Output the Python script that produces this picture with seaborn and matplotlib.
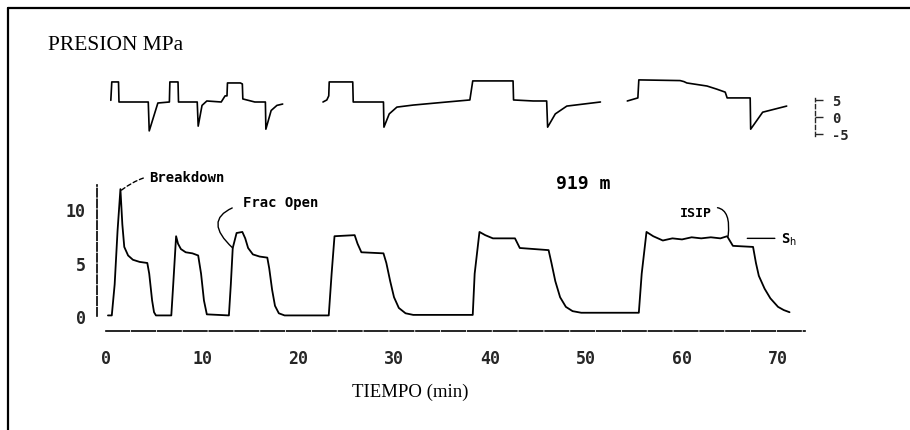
import numpy as np
import pandas as pd
import matplotlib
matplotlib.use("Agg")
import matplotlib.pyplot as plt
import seaborn as sns
from matplotlib.lines import Line2D

# ---------------- data ----------------
# Lower trace: pressure (MPa) vs time (min)
press_time = [0.2, 0.6, 0.9, 1.2, 1.5, 1.7, 1.9, 2.3, 2.8, 3.5, 4.3, 4.5, 4.8, 5.0, 5.2,
              6.8, 7.0, 7.3, 7.5, 7.8, 8.3, 9.0, 9.6, 9.9, 10.2, 10.5,
              12.8, 13.0, 13.2, 13.6, 14.2, 14.5, 14.8, 15.3, 16.0, 16.8, 17.0, 17.3, 17.6, 18.0, 18.6,
              23.2, 23.5, 23.8, 25.9, 26.2, 26.6, 28.9, 29.2, 29.6, 30.0, 30.5, 31.2, 32.0,
              38.2, 38.4, 38.9, 39.5, 40.3, 42.6, 43.1, 46.1, 46.4, 46.8, 47.3, 47.9, 48.6, 49.5,
              55.5, 55.8, 56.3, 57.0, 58.0, 59.0, 60.0, 61.0, 62.0, 63.0, 64.0, 64.7, 65.3, 67.4,
              67.7, 68.0, 68.6, 69.2, 70.0, 70.6, 71.2]
press_mpa = [0.1, 0.1, 3.0, 8.0, 11.9, 8.6, 6.5, 5.7, 5.3, 5.1, 5.0, 4.0, 1.5, 0.4, 0.1,
             0.1, 3.0, 7.5, 6.8, 6.3, 6.0, 5.9, 5.7, 4.0, 1.5, 0.2,
             0.1, 3.0, 6.4, 7.8, 7.9, 7.3, 6.4, 5.8, 5.6, 5.5, 4.5, 2.5, 1.0, 0.3, 0.1,
             0.1, 4.0, 7.5, 7.6, 6.8, 6.0, 5.9, 5.0, 3.3, 1.8, 0.8, 0.3, 0.15,
             0.15, 4.0, 7.9, 7.6, 7.3, 7.3, 6.4, 6.2, 5.0, 3.3, 1.8, 0.9, 0.5, 0.35,
             0.35, 4.0, 7.9, 7.5, 7.1, 7.3, 7.2, 7.4, 7.3, 7.4, 7.3, 7.5, 6.6, 6.5,
             5.0, 3.8, 2.6, 1.7, 0.9, 0.6, 0.4]

# Upper trace (three recorded segments), relative scale
upper_time = [0.5, 0.6, 1.3, 1.35, 4.4, 4.5, 5.4, 6.6, 6.65, 7.5, 7.55, 9.5, 9.6, 10.0, 10.5,
              12.0, 12.4, 12.6, 12.65, 14.0, 14.2, 14.25, 15.5, 16.6, 16.65, 17.2, 17.8, 18.4,
              22.6, 23.0, 23.2, 23.25, 25.7, 25.75, 28.9, 28.95, 29.5, 30.3, 32.0, 35.5, 37.9,
              38.2, 42.4, 42.45, 44.5, 45.9, 46.0, 46.8, 48.0, 51.5,
              54.3, 55.4, 55.5, 59.8, 60.2, 60.5, 62.6, 63.6, 64.5, 64.7, 67.1, 67.15, 68.4, 70.9]
upper_val = [0.5, 5.9, 5.9, 0.0, 0.0, -8.5, -0.3, 0.0, 5.9, 5.9, 0.0, 0.0, -7.1, -1.0, 0.3,
             0.0, 1.8, 1.8, 5.6, 5.6, 5.3, 0.9, 0.0, 0.0, -8.0, -2.5, -1.0, -0.6,
             0.0, 0.6, 1.8, 5.9, 5.9, 0.0, 0.0, -7.4, -3.5, -1.5, -0.9, 0.0, 0.6,
             6.2, 6.2, 0.6, 0.3, 0.3, -7.4, -3.5, -1.2, 0.0,
             0.3, 1.2, 6.5, 6.3, 6.0, 5.6, 4.7, 3.8, 2.9, 1.2, 1.2, -8.0, -3.0, -1.2]
upper_seg = [1] * 28 + [2] * 22 + [3] * 14

scale_ticks = [-5, 0, 5]
x_ticks = [0, 10, 20, 30, 40, 50, 60, 70]
y_ticks = [0, 5, 10]

# ---------------- figure ----------------
sns.set_style("white")
plt.rcParams["font.family"] = ["DejaVu Sans Mono", "DejaVu Sans"]
plt.rcParams["patch.edgecolor"] = "black"

W, H = 910, 431
fig = plt.figure(figsize=(W / 100, H / 100), dpi=100)

def frac_box(x0, y0, x1, y1):
    return [x0 / W, 1 - y1 / H, (x1 - x0) / W, (y1 - y0) / H]

PX_PER_MIN = 9.6
X_LEFT = -0.94

# lower panel
ax = fig.add_axes(frac_box(97, 170, 805, 332))
df_p = pd.DataFrame({"t": press_time, "p": press_mpa})
sns.lineplot(data=df_p, x="t", y="p", sort=False, estimator=None, color="black",
             linewidth=1.3, ax=ax, legend=False)
ax.set_xlim(X_LEFT, X_LEFT + (805 - 97) / PX_PER_MIN)
ax.set_ylim(-1.355, 13.78)
for s in ["top", "right"]:
    ax.spines[s].set_visible(False)
ax.spines["bottom"].set_bounds(0, 72.8)
ax.spines["left"].set_bounds(0, 12.3)
ax.spines["left"].set_linestyle((0, (5, 1.5)))
ax.spines["bottom"].set_linestyle((0, (14, 1.5)))
for s in ["bottom", "left"]:
    ax.spines[s].set_linewidth(1.2)
    ax.spines[s].set_color("black")
ax.set_xticks(x_ticks)
ax.set_yticks(y_ticks)
ax.set_xticks(np.arange(0, 73, 2), minor=True)
ax.set_yticks(np.arange(0, 13, 1), minor=True)
ax.tick_params(axis="x", which="major", direction="out", length=5, width=1.1,
               color="black", labelsize=12, pad=8)
ax.tick_params(axis="y", which="major", direction="out", length=5, width=1.1,
               color="black", labelsize=12, pad=3)
ax.tick_params(axis="both", which="minor", direction="out", length=2.5, width=0.9, color="black")
for lab in ax.get_xticklabels() + ax.get_yticklabels():
    lab.set_fontweight("bold")
    lab.set_family("DejaVu Sans Mono")
ax.set_xlabel("")
ax.set_ylabel("")

txt_kw = dict(family="DejaVu Sans Mono", fontweight="bold", color="black")
ax.annotate("Breakdown", xy=(1.6, 11.8), xytext=(4.5, 13.0), fontsize=10, va="center",
            ha="left", arrowprops=dict(arrowstyle="-", linestyle=(0, (3, 2)), lw=1.0, color="black",
                                       connectionstyle="arc3,rad=0.25", shrinkA=2, shrinkB=0),
            **txt_kw)
ax.annotate("Frac Open", xy=(13.2, 6.4), xytext=(14.3, 10.7), fontsize=10, va="center",
            ha="left", arrowprops=dict(arrowstyle="-", lw=1.0, color="black", relpos=(0, 0.35),
                                       connectionstyle="arc3,rad=0.9", shrinkA=6, shrinkB=0),
            **txt_kw)
ax.annotate("ISIP", xy=(64.8, 7.5), xytext=(61.4, 9.7), fontsize=9.5, va="center",
            ha="center", arrowprops=dict(arrowstyle="-", lw=1.0, color="black",
                                         connectionstyle="arc3,rad=-0.9", shrinkA=2, shrinkB=0),
            **txt_kw)
ax.annotate("S$_\\mathsf{h}$", xy=(66.8, 7.3), xytext=(70.3, 7.3), fontsize=10, va="center",
            ha="left", arrowprops=dict(arrowstyle="-", lw=1.0, color="black", shrinkA=2, shrinkB=0),
            **txt_kw)
ax.text(49.7, 12.5, "919 m", fontsize=13, ha="center", va="center", **txt_kw)

# upper panel
ax_u = fig.add_axes(frac_box(97, 75, 815, 140))
df_u = pd.DataFrame({"t": upper_time, "v": upper_val, "seg": upper_seg})
sns.lineplot(data=df_u, x="t", y="v", units="seg", estimator=None, sort=False,
             color="black", linewidth=1.2, ax=ax_u, legend=False)
ax_u.set_xlim(X_LEFT, X_LEFT + (815 - 97) / PX_PER_MIN)
ax_u.set_ylim(-37 / 3.4, 28 / 3.4)
ax_u.axis("off")

ax_s = ax_u.twinx()
ax_s.set_ylim(-22 / 3.4, 43 / 3.4)
for s in ["top", "left", "bottom"]:
    ax_s.spines[s].set_visible(False)
ax_s.spines["right"].set_bounds(-5.5, 5.5)
ax_s.spines["right"].set_linestyle((0, (3, 2)))
ax_s.spines["right"].set_linewidth(1.0)
ax_s.set_yticks(scale_ticks)
ax_s.set_yticklabels([str(v) for v in scale_ticks])
ax_s.tick_params(axis="y", direction="out", length=6, width=1.0, labelsize=10, pad=6)
for lab in ax_s.get_yticklabels():
    lab.set_fontweight("bold")
    lab.set_family("DejaVu Sans Mono")
ax_s.patch.set_visible(False)

# titles
fig.text(48 / W, 1 - 45 / H, "PRESION MPa", family="Liberation Serif", fontsize=15.5,
         ha="left", va="center", color="black")
fig.text(410 / W, 1 - 392 / H, "TIEMPO (min)", family="Liberation Serif", fontsize=13.5,
         ha="center", va="center", color="black")

# frame of the scanned figure
fig.add_artist(Line2D([8 / W, 8 / W], [0, 1 - 9 / H], transform=fig.transFigure,
                      color="black", lw=1.6))
fig.add_artist(Line2D([8 / W, 1], [1 - 9 / H, 1 - 9 / H], transform=fig.transFigure,
                      color="black", lw=1.6))

fig.savefig("out.png", dpi=100, facecolor="white")
